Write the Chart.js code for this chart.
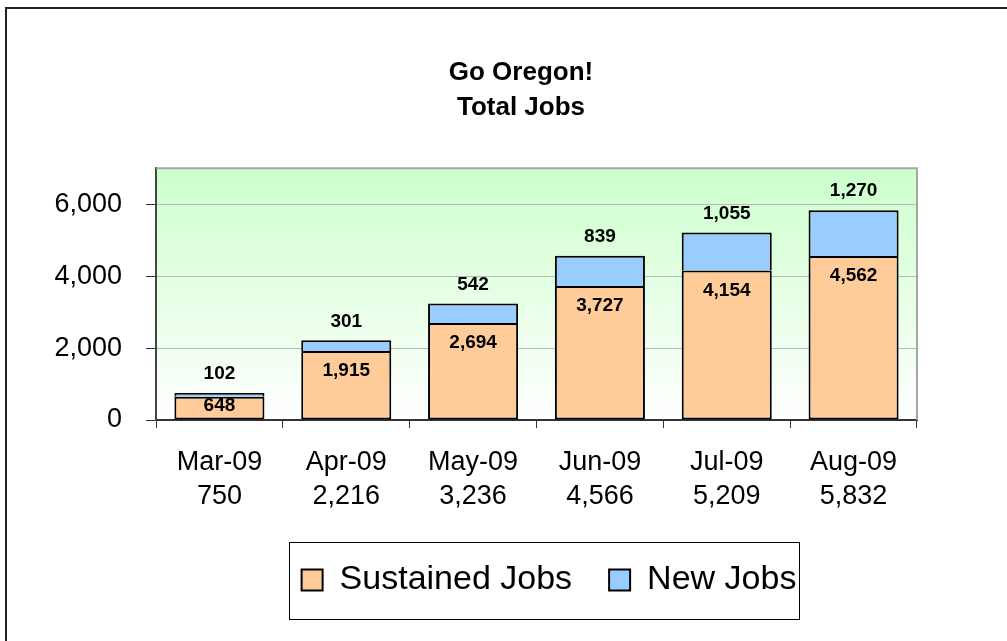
<!DOCTYPE html>
<html>
<head>
<meta charset="utf-8">
<title>Go Oregon! Total Jobs</title>
<script src="https://cdn.jsdelivr.net/npm/chart.js@4/dist/chart.umd.min.js"></script>
<style>
  html, body { margin: 0; padding: 0; background: #fff; }
  #wrap { width: 1007px; height: 641px; }
</style>
</head>
<body>
<div id="wrap"><canvas id="jobs-chart" width="1007" height="641"></canvas></div>
<script>
(function () {
  "use strict";

  // ── Data ───────────────────────────────────
  var months = ["Mar-09", "Apr-09", "May-09", "Jun-09", "Jul-09", "Aug-09"];
  var sustainedJobs = [648, 1915, 2694, 3727, 4154, 4562];
  var newJobs = [102, 301, 542, 839, 1055, 1270];
  var titleLines = ["Go Oregon!", "Total Jobs"];
  var yTicks = [0, 2000, 4000, 6000];
  var yMax = 7000;

  var FONT = "'Liberation Sans', Arial, sans-serif";
  Chart.defaults.font.family = FONT;
  Chart.defaults.color = "#000";

  function fmt(n) {
    return n.toLocaleString("en-US");
  }

  // category label + total underneath
  var labels = months.map(function (m, i) {
    return [m, fmt(sustainedJobs[i] + newJobs[i])];
  });

  // where Excel centred the title / legend (not on the plot)
  var titleCenterX = 521;
  var legendCenterX = 549;

  var decor = {
    id: "decor",
    afterLayout: function (chart) {
      var t = chart.titleBlock;
      if (t) {
        var dt = titleCenterX - (t.left + t.right) / 2;
        t.left += dt;
        t.right += dt;
      }
      var l = chart.legend;
      if (l) {
        var dl = legendCenterX - (l.left + l.right) / 2;
        l.left += dl;
        l.right += dl;
      }
    },
    beforeDraw: function (chart) {
      var ctx = chart.ctx;
      var a = chart.chartArea;
      ctx.save();
      // outer frame (runs off the right / bottom edge)
      ctx.strokeStyle = "#222";
      ctx.lineWidth = 2;
      ctx.strokeRect(6, 8, chart.width + 20, chart.height + 20);
      // plot area gradient
      var g = ctx.createLinearGradient(0, a.top, 0, a.bottom);
      g.addColorStop(0, "#ccffcc");
      g.addColorStop(1, "#ffffff");
      ctx.fillStyle = g;
      ctx.fillRect(a.left, a.top, a.right - a.left, a.bottom - a.top);
      ctx.restore();
    },
    afterDatasetsDraw: function (chart) {
      var ctx = chart.ctx;
      var a = chart.chartArea;
      ctx.save();
      // plot border, top and right
      ctx.strokeStyle = "#a6a6a6";
      ctx.lineWidth = 2;
      ctx.beginPath();
      ctx.moveTo(a.left, a.top);
      ctx.lineTo(a.right, a.top);
      ctx.lineTo(a.right, a.bottom);
      ctx.stroke();

      // value labels
      ctx.font = "bold 19px " + FONT;
      ctx.fillStyle = "#000";
      ctx.textAlign = "center";
      ctx.textBaseline = "middle";
      chart.getDatasetMeta(0).data.forEach(function (bar, i) {
        var h = bar.base - bar.y;
        ctx.fillText(fmt(sustainedJobs[i]), bar.x, bar.y + Math.min(20, h / 2 - 2));
      });
      chart.getDatasetMeta(1).data.forEach(function (bar, i) {
        ctx.fillText(fmt(newJobs[i]), bar.x, bar.y - 19);
      });
      ctx.restore();
    },
    afterDraw: function (chart) {
      var hb = chart.legend && chart.legend.legendHitBoxes;
      if (!hb || !hb.length) return;
      var first = hb[0];
      var last = hb[hb.length - 1];
      var left = first.left - 13;
      var right = last.left + last.width + 2;
      var cy = first.top + first.height / 2;
      var ctx = chart.ctx;
      ctx.save();
      ctx.strokeStyle = "#000";
      ctx.lineWidth = 1;
      ctx.strokeRect(Math.round(left) + 0.5, Math.round(cy - 38) + 0.5, Math.round(right - left), 77);
      ctx.restore();
    },
  };

  new Chart(document.getElementById("jobs-chart"), {
    type: "bar",
    data: {
      labels: labels,
      datasets: [
        {
          label: "Sustained Jobs",
          data: sustainedJobs,
          backgroundColor: "#ffcc99",
          borderColor: "#000",
          borderWidth: 2,
          borderSkipped: false,
          barPercentage: 0.71,
          categoryPercentage: 1,
        },
        {
          label: "New Jobs",
          data: newJobs,
          backgroundColor: "#99ccff",
          borderColor: "#000",
          borderWidth: 2,
          borderSkipped: "bottom",
          barPercentage: 0.71,
          categoryPercentage: 1,
        },
      ],
    },
    options: {
      responsive: false,
      devicePixelRatio: 1,
      animation: false,
      layout: { padding: { top: 55, right: 90, bottom: 34, left: 0 } },
      plugins: {
        title: {
          display: true,
          text: titleLines,
          color: "#000",
          font: { size: 26, weight: "bold", lineHeight: 1.35 },
          padding: { top: 0, bottom: 43 },
        },
        legend: {
          position: "bottom",
          labels: {
            color: "#000",
            font: { size: 34 },
            boxWidth: 21,
            boxHeight: 21,
            padding: 37,
          },
        },
        tooltip: { enabled: false },
      },
      scales: {
        x: {
          stacked: true,
          afterFit: function (s) {
            s.height = 106;
          },
          ticks: {
            padding: 17,
            color: "#000",
            font: { size: 27, lineHeight: 1.28 },
            maxRotation: 0,
            autoSkip: false,
          },
          grid: { offset: true, drawOnChartArea: false, tickColor: "#333", tickLength: 8 },
          border: { color: "#333", width: 2 },
        },
        y: {
          stacked: true,
          min: 0,
          max: yMax,
          afterFit: function (s) {
            s.width = 156;
          },
          afterBuildTicks: function (s) {
            s.ticks = yTicks.map(function (v) {
              return { value: v };
            });
          },
          ticks: {
            padding: 24,
            color: "#000",
            font: { size: 27 },
            callback: function (v) {
              return fmt(v);
            },
          },
          grid: { color: "#b8b8b8", tickColor: "#333", tickLength: 10 },
          border: { color: "#444", width: 2 },
        },
      },
    },
    plugins: [decor],
  });
})();
</script>
</body>
</html>
